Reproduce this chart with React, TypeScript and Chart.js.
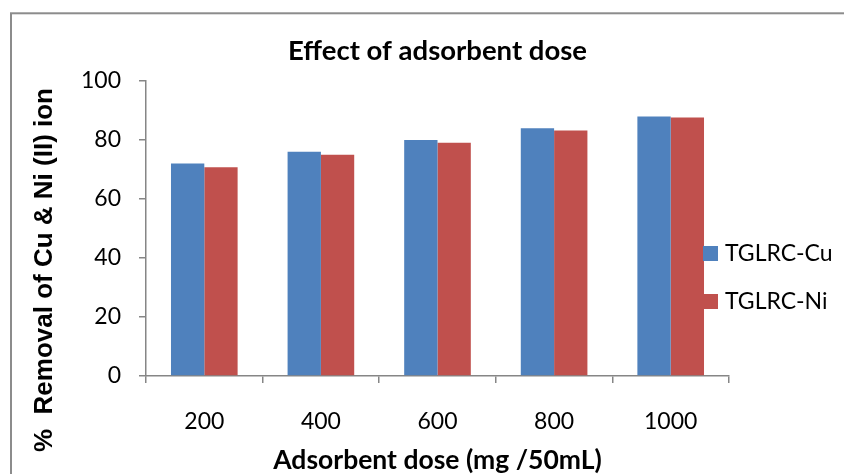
import React, { useEffect, useRef } from 'react';
import { Chart, registerables } from 'chart.js';

Chart.register(...registerables);

const categories = ['200', '400', '600', '800', '1000'];
const cuValues = [72, 76, 80, 84, 88];
const niValues = [70.8, 75, 79.1, 83.2, 87.6];
const seriesLabels = ['TGLRC-Cu', 'TGLRC-Ni'];
const seriesColors = ['#4F81BD', '#C0504D'];
const yTickValues = [0, 20, 40, 60, 80, 100];
const chartTitle = 'Effect of adsorbent dose';
const xAxisTitle = 'Adsorbent dose (mg /50mL)';
const yAxisTitle = '%  Removal of Cu & Ni (II) ion';

const AXIS_GRAY = '#868686';

const framePlugin = {
  id: 'frame',
  beforeDraw(chart: any) {
    const ctx = chart.ctx;
    ctx.save();
    ctx.strokeStyle = '#8c8c8c';
    ctx.lineWidth = 2;
    ctx.strokeRect(11, 13.3, 2000, 2000);
    ctx.restore();
  },
};

const yTitlePlugin = {
  id: 'yTitle',
  afterDraw(chart: any) {
    const ctx = chart.ctx;
    ctx.save();
    ctx.translate(44.5, 270);
    ctx.rotate(-Math.PI / 2);
    ctx.font = 'bold 26px "Liberation Sans", Arial, sans-serif';
    ctx.fillStyle = '#000';
    ctx.textAlign = 'center';
    ctx.textBaseline = 'middle';
    ctx.fillText(yAxisTitle, 0, 0);
    ctx.restore();
  },
};

const customLegendPlugin = {
  id: 'customLegend',
  afterDraw(chart: any) {
    const ctx = chart.ctx;
    ctx.save();
    chart.data.datasets.forEach((ds: any, i: number) => {
      const cy = 253.5 + i * 48;
      ctx.fillStyle = ds.backgroundColor;
      ctx.fillRect(703, cy - 7.5, 15, 15);
      ctx.fillStyle = '#000';
      ctx.font = '23px Lato, sans-serif';
      ctx.textAlign = 'left';
      ctx.textBaseline = 'middle';
      ctx.fillText(ds.label, 725, cy);
    });
    ctx.restore();
  },
};

export default function App() {
  const canvasRef = useRef<HTMLCanvasElement | null>(null);

  useEffect(() => {
    if (!canvasRef.current) return;
    const chart = new Chart(canvasRef.current, {
      type: 'bar',
      data: {
        labels: categories,
        datasets: [
          {
            label: seriesLabels[0],
            data: cuValues,
            backgroundColor: seriesColors[0],
            borderWidth: 0,
            categoryPercentage: 4 / 7,
            barPercentage: 1,
          },
          {
            label: seriesLabels[1],
            data: niValues,
            backgroundColor: seriesColors[1],
            borderWidth: 0,
            categoryPercentage: 4 / 7,
            barPercentage: 1,
          },
        ],
      },
      options: {
        responsive: false,
        animation: false,
        layout: { padding: { left: 0, right: 115, top: 0, bottom: 0 } },
        plugins: {
          legend: { display: false },
          tooltip: { enabled: false },
          title: {
            display: true,
            text: chartTitle,
            color: '#000',
            fullSize: false,
            font: { family: 'Lato', size: 27.5, weight: 'bold' },
            padding: { top: 35, bottom: 13 },
          },
        },
        scales: {
          x: {
            afterFit: (scale: any) => {
              scale.height = 98;
            },
            grid: {
              display: true,
              drawOnChartArea: false,
              drawTicks: true,
              tickLength: 7,
              color: AXIS_GRAY,
              lineWidth: 1.5,
              offset: true,
            },
            border: { display: true, color: AXIS_GRAY, width: 1.5 },
            ticks: {
              color: '#000',
              font: { family: 'Lato', size: 23 },
              padding: 25,
            },
            title: {
              display: true,
              text: xAxisTitle,
              color: '#000',
              font: { family: 'Lato', size: 26.5, weight: 'bold' },
              padding: { top: 0, bottom: -2 },
            },
          },
          y: {
            min: yTickValues[0],
            max: yTickValues[yTickValues.length - 1],
            afterFit: (scale: any) => {
              scale.width = 146;
            },
            grid: {
              display: true,
              drawOnChartArea: false,
              drawTicks: true,
              tickLength: 7,
              color: AXIS_GRAY,
              lineWidth: 1.5,
            },
            border: { display: true, color: AXIS_GRAY, width: 1.5 },
            ticks: {
              stepSize: yTickValues[1] - yTickValues[0],
              color: '#000',
              font: { family: 'Lato', size: 23 },
              padding: 18,
            },
          },
        },
      },
      plugins: [framePlugin, yTitlePlugin, customLegendPlugin],
    });
    return () => chart.destroy();
  }, []);

  return (
    <div style={{ position: 'fixed', left: 0, top: 0, width: 844, height: 474, background: '#fff', overflow: 'hidden' }}>
      <canvas ref={canvasRef} width={844} height={474} style={{ display: 'block' }} />
    </div>
  );
}
